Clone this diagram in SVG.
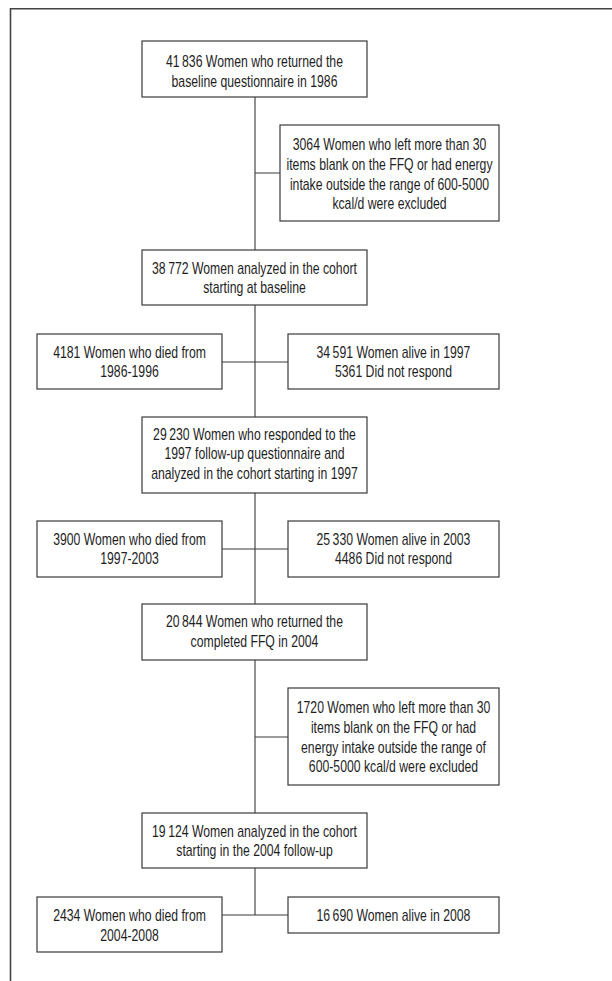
<svg xmlns="http://www.w3.org/2000/svg" width="612" height="981" viewBox="0 0 612 981">
<style>
.box{fill:#fff;stroke:#3a3a3a;stroke-width:1.2}
.ln{fill:none;stroke:#3a3a3a;stroke-width:1.1}
.frame{fill:none;stroke:#444;stroke-width:1.6}
text{font-family:"Liberation Sans",Arial,sans-serif;font-size:16px;fill:#1e1e1e;text-anchor:middle}
</style>
<rect width="612" height="981" fill="#fff"/>
<path class="frame" d="M10.5 981 V8.7 H612"/>
<g id="connectors">
<path class="ln" d="M255 97 V250 M255 173 H280"/>
<path class="ln" d="M255 305 V417 M222 362 H288"/>
<path class="ln" d="M255 493 V604 M222 549 H288"/>
<path class="ln" d="M255 660 V813 M255 737 H288"/>
<path class="ln" d="M255 868 V915 M222 915 H288"/>
</g>
<g id="n1">
<rect class="box" x="142" y="41" width="225" height="56"/>
<g transform="translate(254.5 0) scale(0.765 1)"><text x="0" y="67">41&#8201;836 Women who returned the</text><text x="0" y="87">baseline questionnaire in 1986</text></g>
</g>
<g id="n2">
<rect class="box" x="280" y="125" width="219" height="96"/>
<g transform="translate(389.5 0) scale(0.765 1)"><text x="0" y="150">3064 Women who left more than 30</text><text x="0" y="170">items blank on the FFQ or had energy</text><text x="0" y="190">intake outside the range of 600-5000</text><text x="0" y="209">kcal/d were excluded</text></g>
</g>
<g id="n3">
<rect class="box" x="142" y="250" width="225" height="55"/>
<g transform="translate(254.5 0) scale(0.765 1)"><text x="0" y="274">38&#8201;772 Women analyzed in the cohort</text><text x="0" y="293">starting at baseline</text></g>
</g>
<g id="n4">
<rect class="box" x="37" y="334" width="185" height="55"/>
<g transform="translate(129.5 0) scale(0.765 1)"><text x="0" y="358">4181 Women who died from</text><text x="0" y="377">1986-1996</text></g>
</g>
<g id="n5">
<rect class="box" x="288" y="334" width="211" height="55"/>
<g transform="translate(393.5 0) scale(0.765 1)"><text x="0" y="358">34&#8201;591 Women alive in 1997</text><text x="0" y="377">5361 Did not respond</text></g>
</g>
<g id="n6">
<rect class="box" x="142" y="417" width="225" height="76"/>
<g transform="translate(254.5 0) scale(0.765 1)"><text x="0" y="440">29&#8201;230 Women who responded to the</text><text x="0" y="459">1997 follow-up questionnaire and</text><text x="0" y="479">analyzed in the cohort starting in 1997</text></g>
</g>
<g id="n7">
<rect class="box" x="37" y="521" width="185" height="56"/>
<g transform="translate(129.5 0) scale(0.765 1)"><text x="0" y="545">3900 Women who died from</text><text x="0" y="564">1997-2003</text></g>
</g>
<g id="n8">
<rect class="box" x="288" y="521" width="211" height="56"/>
<g transform="translate(393.5 0) scale(0.765 1)"><text x="0" y="545">25&#8201;330 Women alive in 2003</text><text x="0" y="564">4486 Did not respond</text></g>
</g>
<g id="n9">
<rect class="box" x="142" y="604" width="225" height="56"/>
<g transform="translate(254.5 0) scale(0.765 1)"><text x="0" y="627">20&#8201;844 Women who returned the</text><text x="0" y="647">completed FFQ in 2004</text></g>
</g>
<g id="n10">
<rect class="box" x="288" y="688" width="211" height="97"/>
<g transform="translate(393.5 0) scale(0.765 1)"><text x="0" y="713">1720 Women who left more than 30</text><text x="0" y="733">items blank on the FFQ or had</text><text x="0" y="753">energy intake outside the range of</text><text x="0" y="772">600-5000 kcal/d were excluded</text></g>
</g>
<g id="n11">
<rect class="box" x="142" y="813" width="225" height="55"/>
<g transform="translate(254.5 0) scale(0.765 1)"><text x="0" y="837">19&#8201;124 Women analyzed in the cohort</text><text x="0" y="856">starting in the 2004 follow-up</text></g>
</g>
<g id="n12">
<rect class="box" x="37" y="897" width="185" height="55"/>
<g transform="translate(129.5 0) scale(0.765 1)"><text x="0" y="921">2434 Women who died from</text><text x="0" y="941">2004-2008</text></g>
</g>
<g id="n13">
<rect class="box" x="288" y="897" width="211" height="36"/>
<g transform="translate(393.5 0) scale(0.765 1)"><text x="0" y="921">16&#8201;690 Women alive in 2008</text></g>
</g>
</svg>
